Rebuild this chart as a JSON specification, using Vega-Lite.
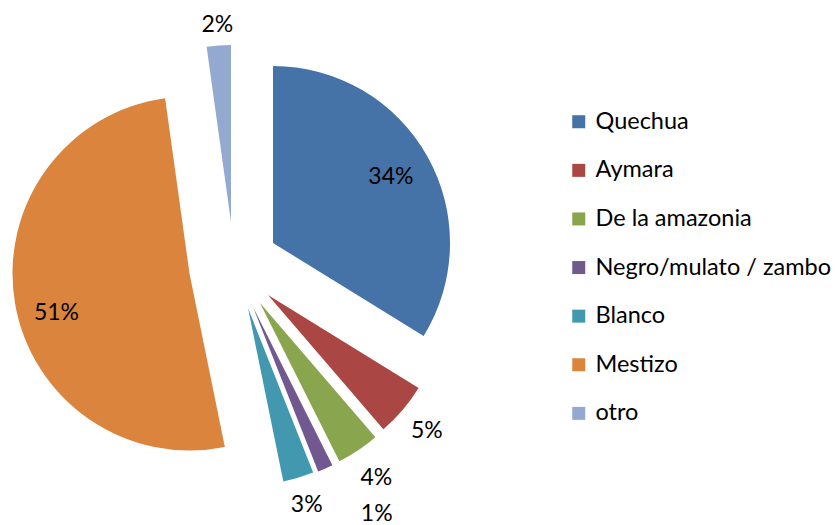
{
  "$schema": "https://vega.github.io/schema/vega-lite/v6.json",
  "width": 472,
  "height": 525,
  "padding": 0,
  "autosize": {"type": "pad"},
  "background": "white",
  "config": {"view": {"stroke": null}},
  "data": {"values": [
    {"cat": "Quechua", "pct": 0.338, "n": 1},
    {"cat": "Aymara", "pct": 0.049, "n": 2},
    {"cat": "De la amazonia", "pct": 0.039, "n": 3},
    {"cat": "Negro/mulato / zambo", "pct": 0.014, "n": 4},
    {"cat": "Blanco", "pct": 0.028, "n": 5},
    {"cat": "Mestizo", "pct": 0.510, "n": 6},
    {"cat": "otro", "pct": 0.022, "n": 7}
  ]},
  "encoding": {
    "theta": {"field": "pct", "type": "quantitative", "stack": true},
    "order": {"field": "n", "type": "quantitative", "sort": "ascending"}
  },
  "layer": [
    {"mark": {"type": "arc", "radius": 177, "xOffset": 37, "yOffset": -19.5},
     "encoding": {
       "color": {"field": "cat", "type": "nominal",
         "scale": {"domain": ["Quechua", "Aymara", "De la amazonia", "Negro/mulato / zambo", "Blanco", "Mestizo", "otro"],
                   "range": ["#4572A7", "#AA4643", "#89A54E", "#71588F", "#4198AF", "#DB843D", "#93A9CF"]},
         "legend": {"title": null, "orient": "none", "legendX": 567, "legendY": 110, "symbolType": "square", "symbolSize": 169,
                    "symbolStrokeWidth": 0, "labelFont": "Lato", "labelFontSize": 23.5, "labelColor": "black", "labelLimit": 400,
                    "rowPadding": 23.6, "labelOffset": 5, "padding": 0}},
       "opacity": {"condition": {"test": "datum.cat === 'Quechua'", "value": 1}, "value": 0}}},
    {"mark": {"type": "arc", "radius": 177, "xOffset": 32, "yOffset": 32.5},
     "encoding": {"color": {"field": "cat", "type": "nominal"},
       "opacity": {"condition": {"test": "datum.cat === 'Aymara'", "value": 1}, "value": 0}}},
    {"mark": {"type": "arc", "radius": 177, "xOffset": 24, "yOffset": 40.5},
     "encoding": {"color": {"field": "cat", "type": "nominal"},
       "opacity": {"condition": {"test": "datum.cat === 'De la amazonia'", "value": 1}, "value": 0}}},
    {"mark": {"type": "arc", "radius": 177, "xOffset": 17, "yOffset": 44.5},
     "encoding": {"color": {"field": "cat", "type": "nominal"},
       "opacity": {"condition": {"test": "datum.cat === 'Negro/mulato / zambo'", "value": 1}, "value": 0}}},
    {"mark": {"type": "arc", "radius": 177, "xOffset": 12, "yOffset": 45.5},
     "encoding": {"color": {"field": "cat", "type": "nominal"},
       "opacity": {"condition": {"test": "datum.cat === 'Blanco'", "value": 1}, "value": 0}}},
    {"mark": {"type": "arc", "radius": 177, "xOffset": -46.5, "yOffset": 11},
     "encoding": {"color": {"field": "cat", "type": "nominal"},
       "opacity": {"condition": {"test": "datum.cat === 'Mestizo'", "value": 1}, "value": 0}}},
    {"mark": {"type": "arc", "radius": 177, "xOffset": -5, "yOffset": -40.5},
     "encoding": {"color": {"field": "cat", "type": "nominal"},
       "opacity": {"condition": {"test": "datum.cat === 'otro'", "value": 1}, "value": 0}}},

    {"mark": {"type": "text", "radius": 135, "xOffset": 37, "yOffset": -19.5, "font": "Lato", "fontSize": 23, "color": "black"},
     "encoding": {"detail": {"field": "cat"}, "text": {"field": "pct", "type": "quantitative", "format": ".0%"},
       "opacity": {"condition": {"test": "datum.cat === 'Quechua'", "value": 1}, "value": 0}}},
    {"mark": {"type": "text", "radius": 209, "xOffset": 32, "yOffset": 32.5, "font": "Lato", "fontSize": 23, "color": "black"},
     "encoding": {"detail": {"field": "cat"}, "text": {"field": "pct", "type": "quantitative", "format": ".0%"},
       "opacity": {"condition": {"test": "datum.cat === 'Aymara'", "value": 1}, "value": 0}}},
    {"mark": {"type": "text", "radius": 210, "xOffset": 24, "yOffset": 40.5, "font": "Lato", "fontSize": 23, "color": "black"},
     "encoding": {"detail": {"field": "cat"}, "text": {"field": "pct", "type": "quantitative", "format": ".0%"},
       "opacity": {"condition": {"test": "datum.cat === 'De la amazonia'", "value": 1}, "value": 0}}},
    {"mark": {"type": "text", "radius": 244, "xOffset": 17, "yOffset": 44.5, "dx": 24, "dy": -16, "font": "Lato", "fontSize": 23, "color": "black"},
     "encoding": {"detail": {"field": "cat"}, "text": {"field": "pct", "type": "quantitative", "format": ".0%"},
       "opacity": {"condition": {"test": "datum.cat === 'Negro/mulato / zambo'", "value": 1}, "value": 0}}},
    {"mark": {"type": "text", "radius": 206, "xOffset": 12, "yOffset": 45.5, "font": "Lato", "fontSize": 23, "color": "black"},
     "encoding": {"detail": {"field": "cat"}, "text": {"field": "pct", "type": "quantitative", "format": ".0%"},
       "opacity": {"condition": {"test": "datum.cat === 'Blanco'", "value": 1}, "value": 0}}},
    {"mark": {"type": "text", "radius": 139, "xOffset": -46.5, "yOffset": 11, "dx": 4, "dy": 16, "font": "Lato", "fontSize": 23, "color": "black"},
     "encoding": {"detail": {"field": "cat"}, "text": {"field": "pct", "type": "quantitative", "format": ".0%"},
       "opacity": {"condition": {"test": "datum.cat === 'Mestizo'", "value": 1}, "value": 0}}},
    {"mark": {"type": "text", "radius": 197, "xOffset": -5, "yOffset": -40.5, "font": "Lato", "fontSize": 23, "color": "black"},
     "encoding": {"detail": {"field": "cat"}, "text": {"field": "pct", "type": "quantitative", "format": ".0%"},
       "opacity": {"condition": {"test": "datum.cat === 'otro'", "value": 1}, "value": 0}}}
  ]
}
